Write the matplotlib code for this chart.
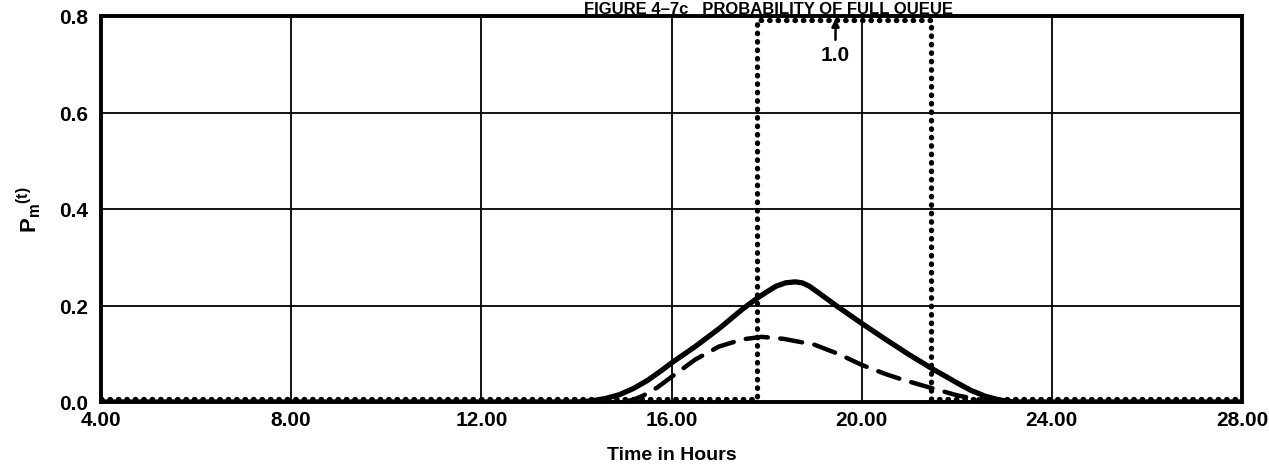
import numpy as np
import matplotlib
matplotlib.use("Agg")
import matplotlib.pyplot as plt

plt.rcParams["font.family"] = ["Liberation Sans", "DejaVu Sans"]
plt.rcParams["font.weight"] = "bold"
plt.rcParams["mathtext.fontset"] = "custom"
plt.rcParams["mathtext.bf"] = "Liberation Sans:bold"
plt.rcParams["mathtext.rm"] = "Liberation Sans:bold"

# Solid curve (hours, P_m(t))
solid_t = [4.0, 14.0, 14.3, 14.6, 14.9, 15.2, 15.5, 15.8, 16.0, 16.5, 17.0, 17.5, 17.8, 18.0,
           18.2, 18.4, 18.6, 18.75, 18.9, 19.1, 19.46, 20.0, 20.5, 21.0, 21.5, 22.0,
           22.3, 22.6, 22.9, 23.2, 28.0]
solid_p = [0.0, 0.0, 0.002, 0.007, 0.015, 0.028, 0.045, 0.066, 0.081, 0.115, 0.152, 0.193,
           0.215, 0.228, 0.24, 0.247, 0.249, 0.247, 0.24, 0.226, 0.2, 0.163, 0.13, 0.098,
           0.068, 0.04, 0.024, 0.012, 0.004, 0.0, 0.0]

# Dashed curve
dashed_t = [15.0, 15.2, 15.4, 15.7, 16.0, 16.5, 17.0, 17.5, 17.9, 18.35, 19.0, 19.5, 20.0,
            20.5, 20.87, 21.5, 22.0, 22.3, 22.6, 23.0]
dashed_p = [0.0, 0.005, 0.013, 0.03, 0.052, 0.088, 0.115, 0.13, 0.135, 0.131, 0.119, 0.1,
            0.077, 0.058, 0.046, 0.028, 0.014, 0.008, 0.003, 0.0]

# Dotted step (goes to 1.0, off the top of the chart)
dotted_t = [4.0, 17.8, 17.8, 21.45, 21.45, 28.0]
dotted_p = [0.0, 0.0, 1.0, 1.0, 0.0, 0.0]

x_ticks = [4, 8, 12, 16, 20, 24, 28]
x_labels = ["4.00", "8.00", "12.00", "16.00", "20.00", "24.00", "28.00"]
y_ticks = [0.0, 0.2, 0.4, 0.6, 0.8]
y_labels = ["0.0", "0.2", "0.4", "0.6", "0.8"]

fig = plt.figure(figsize=(12.69, 4.77), dpi=100)
ax = fig.add_axes([101 / 1269, 1 - 403 / 477, (1242 - 101) / 1269, (403 - 17) / 477])

ax.set_xlim(4, 28)
ax.set_ylim(0, 0.8)

# grid
ax.set_xticks(x_ticks)
ax.set_xticklabels(x_labels)
ax.set_yticks(y_ticks)
ax.set_yticklabels(y_labels)
ax.grid(True, color="black", linewidth=1.3)
ax.set_axisbelow(True)
ax.tick_params(length=0, labelsize=15)
ax.tick_params(axis="x", pad=6)
ax.tick_params(axis="y", pad=9)

ax.plot(solid_t, solid_p, color="black", linewidth=3.8, solid_joinstyle="round",
        solid_capstyle="round", zorder=3)
ax.plot(dashed_t, dashed_p, color="black", linewidth=3.2, dashes=(5, 2.8),
        dash_capstyle="round", dash_joinstyle="round", zorder=3)
# dots along the baseline sit just above the spine in the original
ax.plot(dotted_t, np.clip(np.array(dotted_p) + 0.006, None, 0.792), color="black",
        linewidth=3.8, linestyle=(0, (0.1, 1.5)), dash_capstyle="round",
        clip_on=False, zorder=2)

ax.annotate("", xy=(19.45, 0.8), xytext=(19.45, 0.745),
            arrowprops=dict(arrowstyle="-|>", color="black", lw=1.8, mutation_scale=11))
ax.text(19.45, 0.72, "1.0", ha="center", va="center", fontsize=15, fontweight="bold")

for s in ax.spines.values():
    s.set_linewidth(2.8)
    s.set_zorder(5)

ax.set_xlabel("Time in Hours", fontsize=14, fontweight="bold", labelpad=12)
ax.set_ylabel(r"$\mathbf{{P_m}^{(t)}}$", fontsize=16, labelpad=12)

fig.text(768 / 1269, 1 - 14 / 477, "FIGURE 4\u20137c   PROBABILITY OF FULL QUEUE",
         ha="center", va="baseline", fontsize=12, fontweight="bold")

fig.savefig("out.png", dpi=100)
